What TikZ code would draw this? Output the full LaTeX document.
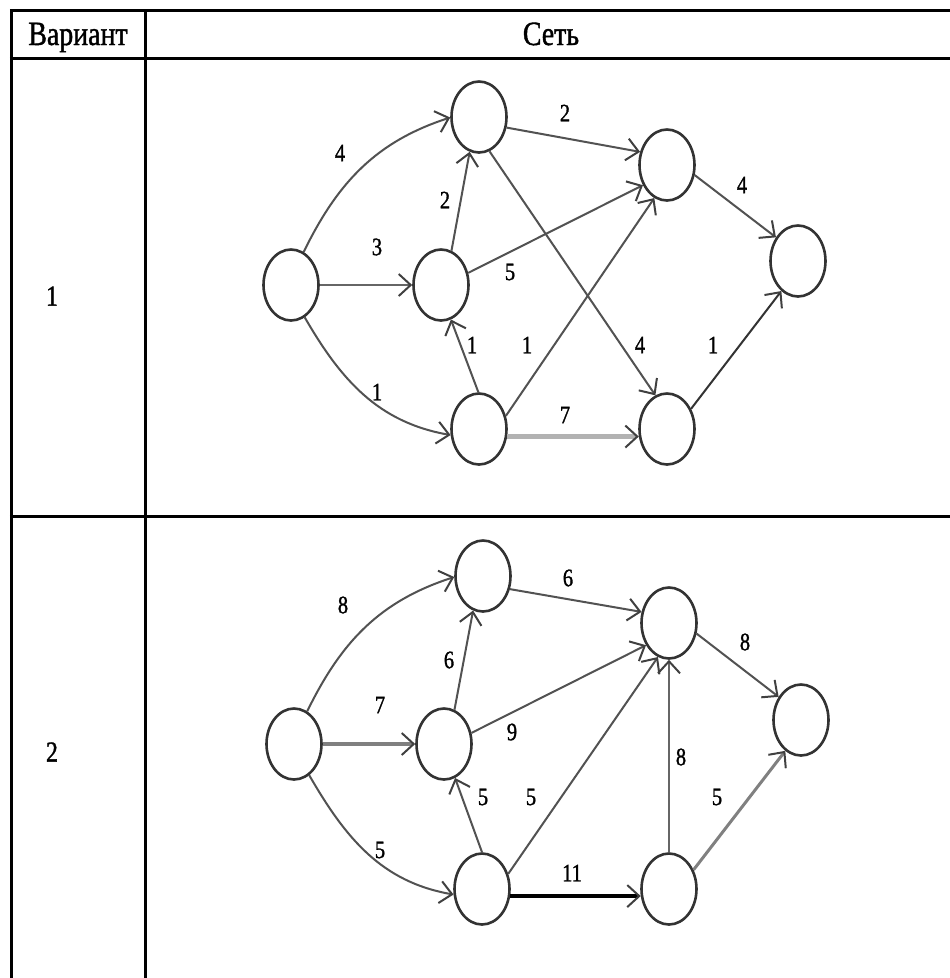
\documentclass[tikz,border=0pt]{standalone}
\usepackage{fontspec}
\setmainfont{Liberation Serif}[FakeStretch=0.82, FakeBold=1.2]
\usetikzlibrary{shapes.geometric,arrows.meta}
\tikzset{
  vertex/.style={ellipse, draw=black!80, line width=2.6pt, minimum width=55pt, minimum height=71pt, inner sep=0pt},
  arc/.style={draw=black!68, line width=2pt, -{Straight Barb[length=12pt,width=22pt,line width=2pt,color=black!75]}},
  lbl/.style={inner sep=0pt, font=\fontsize{25}{30}\selectfont},
  hdr/.style={inner sep=0pt, anchor=base, font=\fontsize{34}{40}\selectfont},
  rowlbl/.style={inner sep=0pt, font=\fontsize{29}{34}\selectfont},
  tab/.style={line width=3pt, black}
}
\begin{document}
\begin{tikzpicture}[x=1pt,y=-1pt]
\useasboundingbox (0,0) rectangle (950,978);
% table
\draw[tab] (9.8,10.5) -- (950,10.5);
\draw[tab] (9.8,58.5) -- (950,58.5);
\draw[tab] (9.8,516) -- (950,516);
\draw[tab] (11.3,9) -- (11.3,978);
\draw[tab] (145.3,9) -- (145.3,978);
\node[hdr] (h1) at (78,45) {Вариант};
\node[hdr] (h2) at (551,45) {Сеть};
\node[rowlbl] (v1) at (52,296) {1};
\node[rowlbl] (v2) at (52,752) {2};

% ---------- network 1 ----------
\node[vertex] (s1) at (291,285) {};
\node[vertex] (t1) at (479,117) {};
\node[vertex] (m1) at (441,285) {};
\node[vertex] (b1) at (479,429) {};
\node[vertex] (u1) at (667,165) {};
\node[vertex] (r1) at (798,261) {};
\node[vertex] (d1) at (667,429) {};

\draw[arc] (s1.69) to[out=64, in=198] (t1.181);
\draw[arc, draw=black!60, line width=2.6pt] (s1) -- (m1);
\draw[arc] (s1.-67) to[out=-60, in=170] (b1.192);
\draw[arc] (m1.73) -- (t1.-105);
\draw[arc] (t1.-21) -- (u1.154);
\draw[arc] (m1.24) -- (u1.220);
\draw[arc] (t1.-73) -- (d1.109);
\draw[arc] (b1.26) -- (u1.249);
\draw[arc] (b1.91) -- (m1.-74);
\draw[arc, draw=black!30, line width=4.5pt] (b1.-15) -- (d1.195);
\draw[arc] (u1.-20) -- (r1.133);
\draw[arc, draw=black!80] (d1.40) -- (r1.241);

\node[lbl] (a1) at (340,153) {4};
\node[lbl] (a2) at (377,247) {3};
\node[lbl] (a3) at (377,392) {1};
\node[lbl] (a4) at (445,200) {2};
\node[lbl] (a5) at (565,113) {2};
\node[lbl] (a6) at (510,272) {5};
\node[lbl] (a7) at (640,345) {4};
\node[lbl] (a8) at (527,345) {1};
\node[lbl] (a9) at (472,345) {1};
\node[lbl] (a10) at (565,415) {7};
\node[lbl] (a11) at (742,185) {4};
\node[lbl] (a12) at (713,345) {1};

% ---------- network 2 ----------
\node[vertex] (s2) at (294,744) {};
\node[vertex] (t2) at (483,576) {};
\node[vertex] (m2) at (444,744) {};
\node[vertex] (b2) at (482,889) {};
\node[vertex] (u2) at (669,623) {};
\node[vertex] (r2) at (801,720) {};
\node[vertex] (d2) at (669,889) {};

\draw[arc] (s2.68) to[out=64, in=198] (t2.182);
\draw[arc, draw=black!50, line width=3.2pt] (s2) -- (m2);
\draw[arc] (s2.-64) to[out=-60, in=170] (b2.191);
\draw[arc] (m2.73) -- (t2.-106);
\draw[arc] (t2.-26) -- (u2.158);
\draw[arc] (m2.22) -- (u2.224);
\draw[arc] (b2.30) -- (u2.252);
\draw[arc] (b2.90) -- (m2.-72);
\draw[arc, draw=black, line width=4pt] (b2.-14) -- (d2.194);
\draw[arc, draw=black!60, line width=1.8pt] (d2) -- (u2);
\draw[arc] (u2.-21) -- (r2.134);
\draw[arc, draw=black!50, line width=3pt] (d2.38) -- (r2.243);

\node[lbl] (c1) at (343,605) {8};
\node[lbl] (c2) at (380,705) {7};
\node[lbl] (c3) at (380,850) {5};
\node[lbl] (c4) at (449,660) {6};
\node[lbl] (c5) at (568,578) {6};
\node[lbl] (c6) at (512,732) {9};
\node[lbl] (c7) at (483,797) {5};
\node[lbl] (c8) at (531,797) {5};
\node[lbl] (c9) at (572,873) {11};
\node[lbl] (c10) at (745,642) {8};
\node[lbl] (c11) at (681,757) {8};
\node[lbl] (c12) at (717,797) {5};
\end{tikzpicture}
\end{document}
